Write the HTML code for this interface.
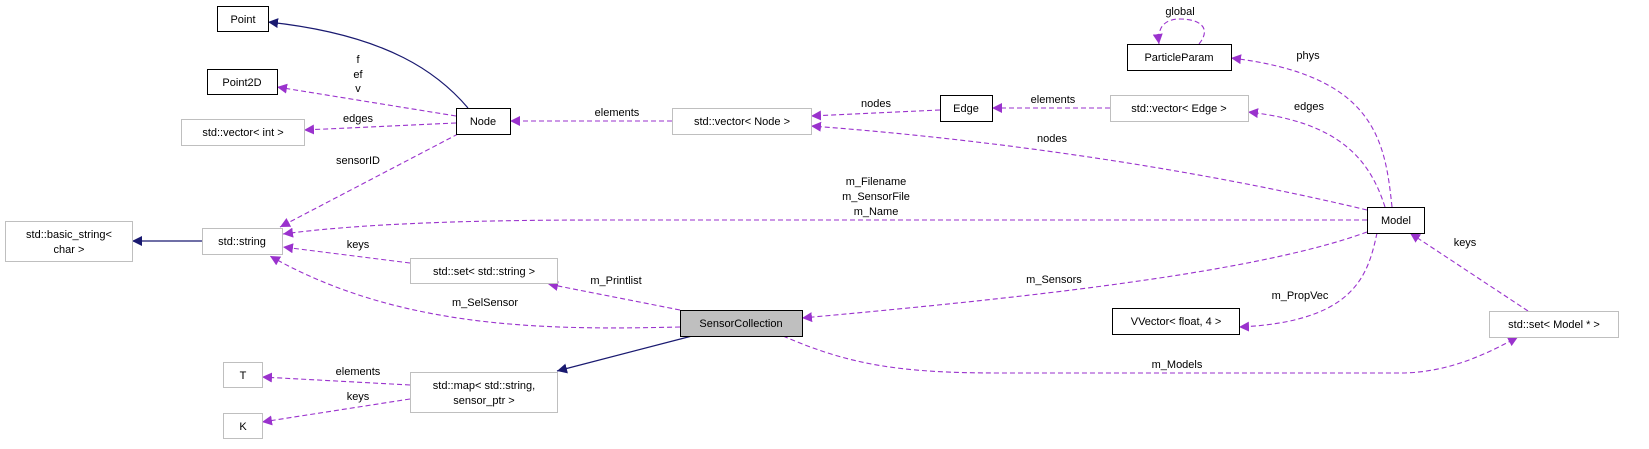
<!DOCTYPE html>
<html><head><meta charset="utf-8"><style>
html,body{margin:0;padding:0;background:#fff;}
svg text{font-family:"Liberation Sans",sans-serif;font-size:11px;fill:#000;}
</style></head><body>
<svg width="1649" height="444" viewBox="0 0 1649 444" xmlns="http://www.w3.org/2000/svg">
<defs>
<marker id="p" viewBox="0 0 10 10" refX="10" refY="5" markerWidth="10" markerHeight="10" markerUnits="userSpaceOnUse" orient="auto"><path d="M0,0 L10,5 L0,10 z" fill="#9a32cd"/></marker>
<marker id="b" viewBox="0 0 10 10" refX="10" refY="5" markerWidth="10" markerHeight="10" markerUnits="userSpaceOnUse" orient="auto"><path d="M0,0 L10,5 L0,10 z" fill="#191970"/></marker>
</defs>
<g fill="none" stroke="#191970" stroke-width="1.2">
<path d="M468,108 C440,75 390,35 268,22" marker-end="url(#b)"/>
<path d="M692,336 L557,371" marker-end="url(#b)"/>
<path d="M203,241 L132,241" marker-end="url(#b)"/>
</g>
<g fill="none" stroke="#9a32cd" stroke-width="1.1" stroke-dasharray="5,3">
<path d="M456,116 L277,87" marker-end="url(#p)"/>
<path d="M456,123 L304,130" marker-end="url(#p)"/>
<path d="M458,134 L280,227" marker-end="url(#p)"/>
<path d="M672,121 L510,121" marker-end="url(#p)"/>
<path d="M940,110 L811,116" marker-end="url(#p)"/>
<path d="M1110,108 L992,108" marker-end="url(#p)"/>
<path d="M1367,210 C1200,170 1000,140 811,126" marker-end="url(#p)"/>
<path d="M1199,44 C1212,28 1200,19 1180,19 C1164,19 1157,28 1159,44" marker-end="url(#p)"/>
<path d="M1392,207 C1385,140 1375,75 1231,58" marker-end="url(#p)"/>
<path d="M1385,207 C1370,160 1340,122 1248,112" marker-end="url(#p)"/>
<path d="M1367,220 L600,220 C450,220 350,225 283,234" marker-end="url(#p)"/>
<path d="M1367,232 C1250,275 1000,300 802,318" marker-end="url(#p)"/>
<path d="M1377,233 C1368,275 1355,322 1239,327" marker-end="url(#p)"/>
<path d="M1528,311 L1410,233" marker-end="url(#p)"/>
<path d="M783,336 C850,365 900,373 1000,373 L1400,373 C1450,373 1490,352 1518,337" marker-end="url(#p)"/>
<path d="M410,263 L283,247" marker-end="url(#p)"/>
<path d="M680,310 L548,284" marker-end="url(#p)"/>
<path d="M680,327 C550,330 400,330 270,256" marker-end="url(#p)"/>
<path d="M410,385 L262,377" marker-end="url(#p)"/>
<path d="M410,399 L262,422" marker-end="url(#p)"/>
</g>
<g stroke-width="1">
<rect x="217.5" y="6.5" width="51" height="25" fill="#fff" stroke="#000"/>
<rect x="207.5" y="69.5" width="70" height="25" fill="#fff" stroke="#000"/>
<rect x="181.5" y="119.5" width="123" height="26" fill="#fff" stroke="#bfbfbf"/>
<rect x="456.5" y="108.5" width="54" height="26" fill="#fff" stroke="#000"/>
<rect x="5.5" y="221.5" width="127" height="40" fill="#fff" stroke="#bfbfbf"/>
<rect x="202.5" y="228.5" width="80" height="26" fill="#fff" stroke="#bfbfbf"/>
<rect x="410.5" y="258.5" width="147" height="25" fill="#fff" stroke="#bfbfbf"/>
<rect x="410.5" y="372.5" width="147" height="40" fill="#fff" stroke="#bfbfbf"/>
<rect x="223.5" y="362.5" width="39" height="25" fill="#fff" stroke="#bfbfbf"/>
<rect x="223.5" y="413.5" width="39" height="25" fill="#fff" stroke="#bfbfbf"/>
<rect x="672.5" y="108.5" width="139" height="26" fill="#fff" stroke="#bfbfbf"/>
<rect x="940.5" y="95.5" width="52" height="26" fill="#fff" stroke="#000"/>
<rect x="1110.5" y="95.5" width="138" height="26" fill="#fff" stroke="#bfbfbf"/>
<rect x="1127.5" y="44.5" width="104" height="26" fill="#fff" stroke="#000"/>
<rect x="1367.5" y="207.5" width="57" height="26" fill="#fff" stroke="#000"/>
<rect x="680.5" y="310.5" width="122" height="26" fill="#bfbfbf" stroke="#000"/>
<rect x="1112.5" y="308.5" width="127" height="26" fill="#fff" stroke="#000"/>
<rect x="1489.5" y="311.5" width="129" height="26" fill="#fff" stroke="#bfbfbf"/>
</g>
<g text-anchor="middle">
<text x="243" y="23">Point</text>
<text x="242" y="86">Point2D</text>
<text x="243" y="136">std::vector&lt; int &gt;</text>
<text x="483" y="125">Node</text>
<text x="69" y="238">std::basic_string&lt;</text>
<text x="69" y="253">char &gt;</text>
<text x="242" y="245">std::string</text>
<text x="484" y="275">std::set&lt; std::string &gt;</text>
<text x="484" y="389">std::map&lt; std::string,</text>
<text x="484" y="404">sensor_ptr &gt;</text>
<text x="243" y="379">T</text>
<text x="243" y="430">K</text>
<text x="742" y="125">std::vector&lt; Node &gt;</text>
<text x="966" y="112">Edge</text>
<text x="1179" y="112">std::vector&lt; Edge &gt;</text>
<text x="1179" y="61">ParticleParam</text>
<text x="1396" y="224">Model</text>
<text x="741" y="327">SensorCollection</text>
<text x="1176" y="325">VVector&lt; float, 4 &gt;</text>
<text x="1554" y="328">std::set&lt; Model * &gt;</text>
<!-- labels -->
<text x="358" y="63">f</text>
<text x="358" y="78">ef</text>
<text x="358" y="92">v</text>
<text x="358" y="122">edges</text>
<text x="358" y="164">sensorID</text>
<text x="617" y="116">elements</text>
<text x="876" y="107">nodes</text>
<text x="1053" y="103">elements</text>
<text x="1052" y="142">nodes</text>
<text x="1180" y="15">global</text>
<text x="1308" y="59">phys</text>
<text x="1309" y="110">edges</text>
<text x="876" y="185">m_Filename</text>
<text x="876" y="200">m_SensorFile</text>
<text x="876" y="215">m_Name</text>
<text x="1054" y="283">m_Sensors</text>
<text x="1300" y="299">m_PropVec</text>
<text x="1465" y="246">keys</text>
<text x="1177" y="368">m_Models</text>
<text x="358" y="248">keys</text>
<text x="616" y="284">m_Printlist</text>
<text x="485" y="306">m_SelSensor</text>
<text x="358" y="375">elements</text>
<text x="358" y="400">keys</text>
</g>
</svg>
</body></html>
